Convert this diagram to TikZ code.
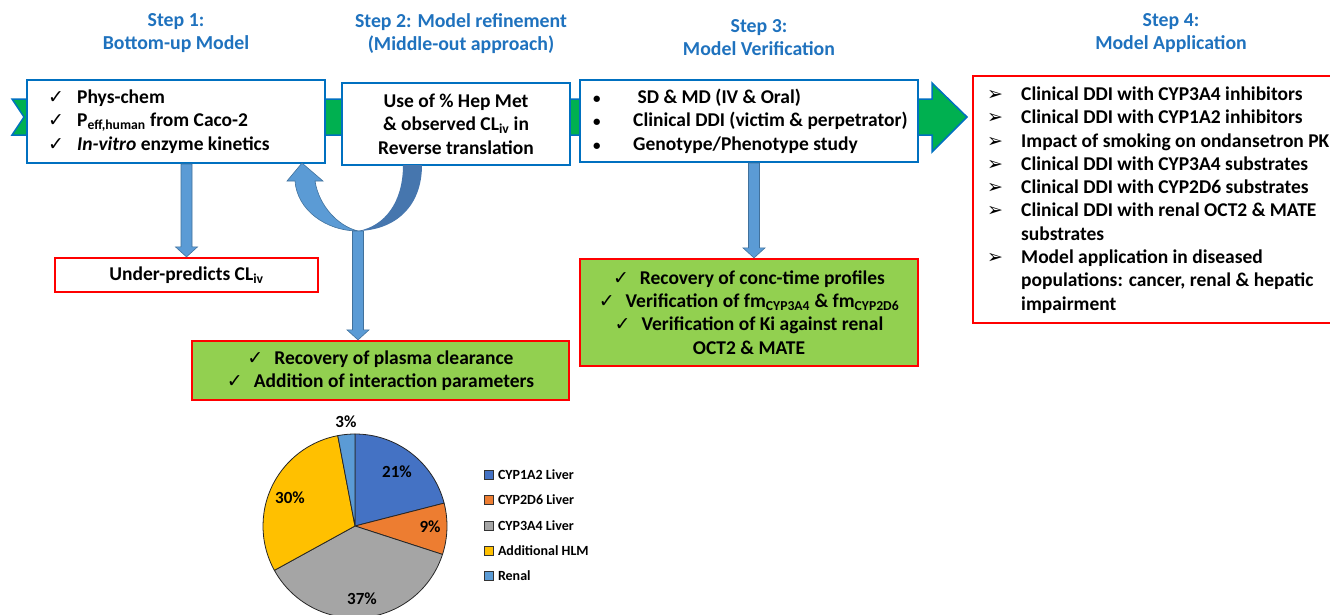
\documentclass[tikz,border=0pt]{standalone}
\usepackage{fontspec}
\setmainfont{Carlito}
\newfontfamily\symfont{DejaVu Sans}
\usetikzlibrary{calc}
\definecolor{stepblue}{HTML}{1F72BE}
\definecolor{boxblue}{HTML}{0070C0}
\definecolor{bandgreen}{HTML}{00B050}
\definecolor{lightgreen}{HTML}{92D050}
\definecolor{arrowblue}{HTML}{5B9BD5}
\definecolor{arrowedge}{HTML}{41719C}
\definecolor{darkarrow}{HTML}{4676AE}
\definecolor{pieA}{HTML}{4472C4}
\definecolor{pieB}{HTML}{ED7D31}
\definecolor{pieC}{HTML}{A5A5A5}
\definecolor{pieD}{HTML}{FFC000}
\definecolor{pieE}{HTML}{5B9BD5}
\newcommand\ckm{\makebox[29pt][l]{\symfont\fontsize{19}{19}\selectfont ✓}}
\newcommand\ckc{{\symfont\fontsize{19}{19}\selectfont ✓}\hspace{11pt}}
\newcommand\blt{\makebox[40pt][l]{\fontsize{15}{15}\selectfont •}}
\newcommand\arw{\makebox[34pt][l]{\symfont\fontsize{19}{19}\selectfont ➢}}
\newcommand\vblockarrow[2]{\path[blockarrow] let \p1=(#1), \p2=(#2) in
  (\x1-5.5pt,\y1) -- (\x1-5.5pt,\y2+10pt) -- (\x1-11pt,\y2+10pt) -- (\x1,\y2)
  -- (\x1+11pt,\y2+10pt) -- (\x1+5.5pt,\y2+10pt) -- (\x1+5.5pt,\y1) -- cycle;}
\tikzset{
  steptitle/.style={text=stepblue, align=center, font=\fontsize{19.8}{23}\selectfont\bfseries},
  bluebox/.style={draw=boxblue, line width=2pt, fill=white, inner sep=0pt},
  redbox/.style={draw=red, line width=2.2pt, fill=white, inner sep=0pt},
  greenbox/.style={draw=red, line width=2.2pt, fill=lightgreen, inner sep=0pt},
  boxtext/.style={align=left, inner sep=0pt},
  ctext/.style={align=center, inner sep=0pt},
  blockarrow/.style={fill=arrowblue, draw=arrowedge, line width=0.6pt},
  pieslice/.style={draw=black!85, line width=0.8pt},
  pielabel/.style={font=\fontsize{17}{17}\selectfont\bfseries, inner sep=0pt},
  legsq/.style={draw=black!80, line width=0.6pt, minimum size=9pt, inner sep=0pt},
  legtext/.style={anchor=west, font=\fontsize{14}{14}\selectfont\bfseries, inner sep=0pt, xshift=4pt}
}
\begin{document}
\begin{tikzpicture}[x=1pt,y=-1pt, font=\fontsize{19.5}{23.3}\selectfont\bfseries]
\useasboundingbox (0,0) rectangle (1330,614);
\clip (0,0) rectangle (1330,614);
% titles
\node[steptitle] (t1) at (176,33) {Step 1:\\Bottom-up Model};
\node[steptitle] (t2) at (461,33.5) {Step 2: Model refinement\\(Middle-out approach)};
\node[steptitle] (t3) at (759,37.5) {Step 3:\\Model Verification};
\node[steptitle] (t4) at (1171,33) {Step 4:\\Model Application};
% green band arrow
\path[fill=bandgreen, draw=boxblue, line width=1.5pt]
  (12,99) -- (932,99) -- (932,83) -- (967,117) -- (932,152) -- (932,135) -- (12,135) -- (24,117) -- cycle;
% boxes
\node[bluebox, minimum width=298pt, minimum height=83pt] (b1) at (176,121.5) {};
\node[bluebox, minimum width=228pt, minimum height=82pt] (b2) at (456,124) {};
\node[bluebox, minimum width=338pt, minimum height=82pt] (b3) at (749,121) {};
\node[redbox, minimum width=372pt, minimum height=247pt] (s4) at (1159,199.5) {};
\node[redbox, minimum width=263pt, minimum height=34pt] (up) at (186.5,275) {};
\node[greenbox, minimum width=377pt, minimum height=59pt] (g2) at (380.5,370.5) {};
\node[greenbox, minimum width=338pt, minimum height=107pt] (g3) at (749,312.5) {};
% texts
\node[boxtext, anchor=west] (b1t) at (48,121.5) {\ckm Phys-chem\\ \ckm P\textsubscript{eff,human} from Caco-2\\ \ckm\textit{In-vitro} enzyme kinetics};
\node[ctext] (b2t) at (b2) {Use of \% Hep Met\\ \& observed CL\textsubscript{iv} in\\ Reverse translation};
\node[boxtext, anchor=west] (b3t) at (593,121) {\blt\ SD \& MD (IV \& Oral)\\ \blt Clinical DDI (victim \& perpetrator)\\ \blt Genotype/Phenotype study};
\node[boxtext, anchor=west] (s4t) at (987,200) {\arw Clinical DDI with CYP3A4 inhibitors\\
 \arw Clinical DDI with CYP1A2 inhibitors\\
 \arw Impact of smoking on ondansetron PK\\
 \arw Clinical DDI with CYP3A4 substrates\\
 \arw Clinical DDI with CYP2D6 substrates\\
 \arw Clinical DDI with renal OCT2 \& MATE\\
 \hspace*{34pt}substrates\\
 \arw Model application in diseased\\
 \hspace*{34pt}populations: cancer, renal \& hepatic\\
 \hspace*{34pt}impairment};
\node[ctext] (upt) at (up) {Under-predicts CL\textsubscript{iv}};
\node[ctext] (g2t) at (g2) {\ckc Recovery of plasma clearance\\ \ckc Addition of interaction parameters};
\node[ctext] (g3t) at (g3) {\ckc Recovery of conc-time profiles\\ \ckc Verification of fm\textsubscript{CYP3A4} \& fm\textsubscript{CYP2D6}\\ \ckc Verification of Ki against renal\\ OCT2 \& MATE};
% straight block arrows
\coordinate (a1top) at (b1.south -| up.north);
\coordinate (a1tip) at (up.north);
\vblockarrow{a1top}{a1tip}
\coordinate (a3top) at ($(b3.south)+(5,0)$);
\coordinate (a3tip) at (a3top |- g3.north);
\vblockarrow{a3top}{a3tip}
% U-turn arrow from box 2 back to box 1
\coordinate (ubot) at (358,231);
\fill[darkarrow] (403,165) .. controls (403,202) and (385,226) .. (ubot)
  .. controls (396,230) and (422,206) .. (422,165) -- cycle;
\path[blockarrow] (ubot) .. controls (326,231) and (297,210) .. (295,181)
  -- (287,181) -- (302,163) -- (323,181) -- (315,181)
  .. controls (319,206) and (338,226) .. (ubot) -- cycle;
\coordinate (a2tip) at (ubot |- g2.north);
\vblockarrow{ubot}{a2tip}
% pie chart
\begin{scope}[shift={(355,526)}, y=1pt]
  \path[pieslice, fill=pieA] (0,0) -- (90:92) arc[start angle=90, end angle=14.4, radius=92] -- cycle;
  \path[pieslice, fill=pieB] (0,0) -- (14.4:92) arc[start angle=14.4, end angle=-18, radius=92] -- cycle;
  \path[pieslice, fill=pieC] (0,0) -- (-18:92) arc[start angle=-18, end angle=-151.2, radius=92] -- cycle;
  \path[pieslice, fill=pieD] (0,0) -- (-151.2:92) arc[start angle=-151.2, end angle=-259.2, radius=92] -- cycle;
  \path[pieslice, fill=pieE] (0,0) -- (100.8:92) arc[start angle=100.8, end angle=90, radius=92] -- cycle;
\end{scope}
\node[pielabel] (p1) at (397,472) {21\%};
\node[pielabel] (p2) at (430,527) {9\%};
\node[pielabel] (p3) at (362,599) {37\%};
\node[pielabel] (p4) at (290,498) {30\%};
\node[pielabel] (p5) at (346,422) {3\%};
% legend
\node[legsq, fill=pieA] (l1) at (489,475) {};
\node[legsq, fill=pieB] (l2) at (489,500) {};
\node[legsq, fill=pieC] (l3) at (489,526) {};
\node[legsq, fill=pieD] (l4) at (489,551) {};
\node[legsq, fill=pieE] (l5) at (489,576) {};
\node[legtext] at (l1.east) {CYP1A2 Liver};
\node[legtext] at (l2.east) {CYP2D6 Liver};
\node[legtext] at (l3.east) {CYP3A4 Liver};
\node[legtext] at (l4.east) {Additional HLM};
\node[legtext] at (l5.east) {Renal};
\end{tikzpicture}
\end{document}
